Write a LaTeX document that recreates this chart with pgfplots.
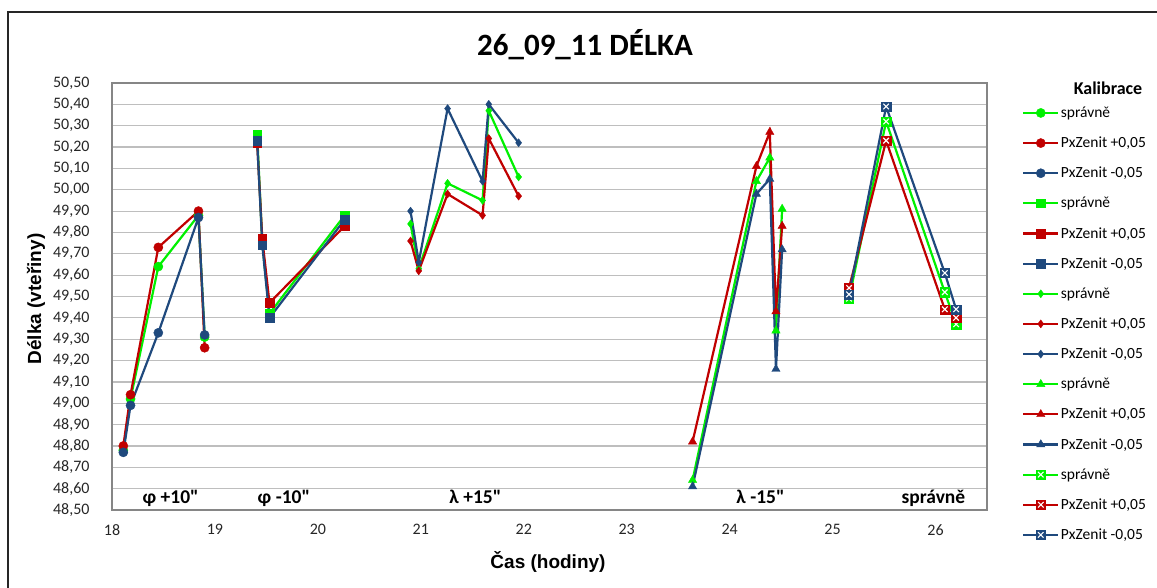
\documentclass[border=0pt]{standalone}
\usepackage{pgfplots}
\pgfplotsset{compat=1.18}
\usepackage{fontspec}
\setmainfont{Carlito}
\newfontfamily\grpfont{Carlito}[Ligatures=TeXOff]
\newfontfamily\arialfont{Liberation Sans}
\usetikzlibrary{plotmarks}
\definecolor{cg}{HTML}{00F000}
\definecolor{cr}{HTML}{C00000}
\definecolor{cb}{HTML}{1F497D}
\definecolor{gridc}{HTML}{BEBEBE}
\definecolor{axc}{HTML}{868686}
\pgfdeclareplotmark{xsquare}{%
  \pgfpathrectangle{\pgfqpoint{-\pgfplotmarksize}{-\pgfplotmarksize}}{\pgfqpoint{2\pgfplotmarksize}{2\pgfplotmarksize}}%
  \pgfusepathqfillstroke
  \begin{pgfscope}%
  \pgfsetstrokecolor{white}%
  \pgfsetlinewidth{1.1pt}%
  \pgfpathmoveto{\pgfqpoint{-0.6\pgfplotmarksize}{-0.6\pgfplotmarksize}}%
  \pgfpathlineto{\pgfqpoint{0.6\pgfplotmarksize}{0.6\pgfplotmarksize}}%
  \pgfpathmoveto{\pgfqpoint{-0.6\pgfplotmarksize}{0.6\pgfplotmarksize}}%
  \pgfpathlineto{\pgfqpoint{0.6\pgfplotmarksize}{-0.6\pgfplotmarksize}}%
  \pgfusepathqstroke
  \end{pgfscope}%
}
\pgfplotsset{
  sg/.style={color=cg, line width=2.2pt, mark options={solid, line width=0.4pt, fill=cg}},
  sr/.style={color=cr, line width=2.2pt, mark options={solid, line width=0.4pt, fill=cr}},
  sb/.style={color=cb, line width=2.2pt, mark options={solid, line width=0.4pt, fill=cb}},
}
\begin{document}
\begin{tikzpicture}[x=1pt,y=1pt]
\useasboundingbox (0,0) rectangle (1157,587);
\draw[line width=1.5pt, black!85] (8,-2) -- (8,575) -- (1160,575);
\begin{axis}[
  at={(112pt,77pt)}, anchor=south west,
  scale only axis, width=875pt, height=427pt,
  xmin=18, xmax=26.5, ymin=48.5, ymax=50.5,
  xtick={18,19,20,21,22,23,24,25,26},
  ytick distance=0.1,
  ymajorgrids,
  major grid style={gridc, line width=1.2pt},
  axis line style={axc, line width=1.2pt},
  major tick length=0pt,
  /pgf/number format/assume math mode=true,
  tick label style={font=\fontsize{16}{17}\selectfont, text=black!85},
  yticklabel style={/pgf/number format/.cd, fixed, fixed zerofill, precision=2, use comma, /tikz/.cd, xshift=-19pt},
  xticklabel style={yshift=-11pt},
  clip=false,
  legend style={at={(1.040,0.948)}, anchor=north west, draw=none, fill=none,
    font=\fontsize{15.5}{16}\selectfont, row sep=15pt, inner sep=0pt,
    nodes={inner sep=1.5pt}},
  legend cell align=left,
  legend image code/.code={\draw[mark repeat=2,mark phase=2,#1] plot coordinates {(0pt,0pt) (17.5pt,0pt) (35pt,0pt)};},
]
% circles: phi +10
\addplot[sg, mark=*, mark size=4.6pt] coordinates {(18.11,48.78) (18.18,49.02) (18.45,49.64) (18.84,49.88) (18.90,49.31)};
\addlegendentry{správně}
\addplot[sr, mark=*, mark size=4.6pt] coordinates {(18.11,48.80) (18.18,49.04) (18.45,49.73) (18.84,49.90) (18.90,49.26)};
\addlegendentry{PxZenit +0,05}
\addplot[sb, mark=*, mark size=4.6pt] coordinates {(18.11,48.77) (18.18,48.99) (18.45,49.33) (18.84,49.87) (18.90,49.32)};
\addlegendentry{PxZenit -0,05}
% squares: phi -10
\addplot[sg, mark=square*, mark size=4.3pt] coordinates {(19.41,50.26) (19.46,49.75) (19.53,49.42) (20.26,49.88)};
\addlegendentry{správně}
\addplot[sr, mark=square*, mark size=4.3pt] coordinates {(19.41,50.22) (19.46,49.77) (19.53,49.47) (20.26,49.83)};
\addlegendentry{PxZenit +0,05}
\addplot[sb, mark=square*, mark size=4.3pt] coordinates {(19.41,50.23) (19.46,49.74) (19.53,49.40) (20.26,49.86)};
\addlegendentry{PxZenit -0,05}
% diamonds: lambda +15
\addplot[sg, mark=diamond*, mark size=4pt] coordinates {(20.90,49.84) (20.98,49.63) (21.26,50.03) (21.60,49.95) (21.66,50.37) (21.95,50.06)};
\addlegendentry{správně}
\addplot[sr, mark=diamond*, mark size=4pt] coordinates {(20.90,49.76) (20.98,49.62) (21.26,49.98) (21.60,49.88) (21.66,50.24) (21.95,49.97)};
\addlegendentry{PxZenit +0,05}
\addplot[sb, mark=diamond*, mark size=4pt] coordinates {(20.90,49.90) (20.98,49.66) (21.26,50.38) (21.60,50.04) (21.66,50.40) (21.95,50.22)};
\addlegendentry{PxZenit -0,05}
% triangles: lambda -15
\addplot[sg, mark=triangle*, mark size=4.8pt] coordinates {(23.64,48.64) (24.26,50.04) (24.39,50.15) (24.45,49.34) (24.51,49.91)};
\addlegendentry{správně}
\addplot[sr, mark=triangle*, mark size=4.8pt] coordinates {(23.64,48.82) (24.26,50.11) (24.39,50.27) (24.45,49.43) (24.51,49.83)};
\addlegendentry{PxZenit +0,05}
\addplot[sb, mark=triangle*, mark size=4.8pt] coordinates {(23.64,48.61) (24.26,49.98) (24.39,50.05) (24.45,49.16) (24.51,49.72)};
\addlegendentry{PxZenit -0,05}
% crossed squares: spravne
\addplot[sg, mark=xsquare, mark size=4.6pt] coordinates {(25.16,49.49) (25.52,50.32) (26.09,49.52) (26.20,49.37)};
\addlegendentry{správně}
\addplot[sr, mark=xsquare, mark size=4.6pt] coordinates {(25.16,49.54) (25.52,50.23) (26.09,49.44) (26.20,49.40)};
\addlegendentry{PxZenit +0,05}
\addplot[sb, mark=xsquare, mark size=4.6pt] coordinates {(25.16,49.51) (25.52,50.39) (26.09,49.61) (26.20,49.44)};
\addlegendentry{PxZenit -0,05}
% group labels
\begin{scope}[every node/.style={font=\grpfont\bfseries\fontsize{19.5}{20}\selectfont, anchor=base, inner sep=0pt}]
\node at (axis cs:18.57,48.53) {φ +10"};
\node at (axis cs:19.67,48.53) {φ -10"};
\node at (axis cs:21.53,48.53) {λ +15"};
\node at (axis cs:24.30,48.53) {λ -15"};
\node at (axis cs:25.98,48.53) {správně};
\end{scope}
\end{axis}
\node[font=\bfseries\fontsize{31}{32}\selectfont] at (585,542) {26\_09\_11 DÉLKA};
\node[rotate=90, font=\arialfont\bfseries\fontsize{19}{20}\selectfont] at (36,288) {Délka (vteřiny)};
\node[font=\arialfont\bfseries\fontsize{19}{20}\selectfont] at (548,25) {Čas (hodiny)};
\node[font=\bfseries\fontsize{18}{19}\selectfont] at (1108,499) {Kalibrace};
\end{tikzpicture}
\end{document}
